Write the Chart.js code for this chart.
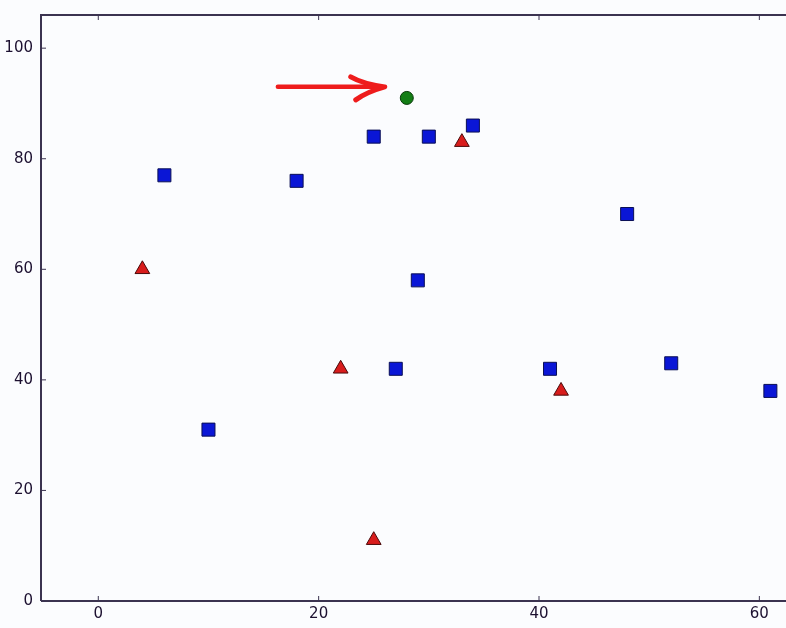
<!DOCTYPE html>
<html>
<head>
<meta charset="utf-8">
<script src="https://cdn.jsdelivr.net/npm/chart.js@4/dist/chart.umd.min.js"></script>
<style>
html,body{margin:0;padding:0;background:#fbfcfe;overflow:hidden;}
#wrap{width:786px;height:628px;overflow:hidden;}
</style>
</head>
<body>
<div id="wrap"><canvas id="c" width="796" height="628"></canvas></div>
<script>
// Data
const squaresX = [6, 10, 18, 25, 27, 29, 30, 34, 41, 48, 52, 61];
const squaresY = [77, 31, 76, 84, 42, 58, 84, 86, 42, 70, 43, 38];
const trianglesX = [4, 22, 25, 33, 42];
const trianglesY = [60, 42, 11, 83, 38];
const circleX = [28];
const circleY = [91];
const arrowFrom = [16.3, 93];
const arrowTo = [26.0, 93];
const xTicks = [0, 20, 40, 60];
const yTicks = [0, 20, 40, 60, 80, 100];

const toPts = (xs, ys) => xs.map((x, i) => ({x: x, y: ys[i]}));

const axisColor = '#3b3350';
const textColor = '#1c1030';

const framePlugin = {
  id: 'frame',
  beforeDraw(chart) {
    const ctx = chart.ctx;
    ctx.save();
    ctx.fillStyle = '#fbfcfe';
    ctx.fillRect(0, 0, chart.width, chart.height);
    ctx.restore();
  },
  afterDraw(chart) {
    const {ctx, chartArea: a, scales} = chart;
    ctx.save();
    ctx.strokeStyle = axisColor;
    ctx.lineWidth = 2;
    ctx.beginPath();
    ctx.moveTo(a.left, a.bottom);
    ctx.lineTo(a.left, a.top);
    ctx.lineTo(a.right + 2, a.top);
    ctx.moveTo(a.left, a.bottom);
    ctx.lineTo(a.right + 2, a.bottom);
    ctx.stroke();
    // inward tick marks
    ctx.lineWidth = 1;
    ctx.beginPath();
    xTicks.forEach(v => {
      const px = scales.x.getPixelForValue(v);
      ctx.moveTo(px, a.bottom);
      ctx.lineTo(px, a.bottom - 5);
      ctx.moveTo(px, a.top);
      ctx.lineTo(px, a.top + 5);
    });
    yTicks.forEach(v => {
      const py = scales.y.getPixelForValue(v);
      ctx.moveTo(a.left, py);
      ctx.lineTo(a.left + 5, py);
    });
    ctx.stroke();
    // red arrow
    const x0 = scales.x.getPixelForValue(arrowFrom[0]);
    const y0 = scales.y.getPixelForValue(arrowFrom[1]);
    const x1 = scales.x.getPixelForValue(arrowTo[0]);
    const y1 = scales.y.getPixelForValue(arrowTo[1]);
    ctx.strokeStyle = '#ee1c1c';
    ctx.lineCap = 'round';
    ctx.lineJoin = 'round';
    ctx.lineWidth = 4.5;
    ctx.beginPath();
    ctx.moveTo(x0, y0);
    ctx.lineTo(x1 - 4, y1);
    ctx.stroke();
    ctx.lineWidth = 5;
    ctx.beginPath();
    ctx.moveTo(x1 - 34, y1 - 10);
    ctx.quadraticCurveTo(x1 - 22, y1 - 3, x1, y1);
    ctx.quadraticCurveTo(x1 - 18, y1 + 5, x1 - 29, y1 + 13);
    ctx.stroke();
    ctx.restore();
  }
};

new Chart(document.getElementById('c'), {
  type: 'scatter',
  data: {
    datasets: [
      {
        data: toPts(squaresX, squaresY),
        pointStyle: 'rect',
        pointRadius: 9.2,
        pointHoverRadius: 9.2,
        backgroundColor: '#0a16d6',
        borderColor: '#0a0f55',
        borderWidth: 1
      },
      {
        data: toPts(trianglesX, trianglesY),
        pointStyle: 'triangle',
        pointRadius: 8.5,
        pointHoverRadius: 8.5,
        backgroundColor: '#d81c1c',
        borderColor: '#4a0a0a',
        borderWidth: 1
      },
      {
        data: toPts(circleX, circleY),
        pointStyle: 'circle',
        pointRadius: 6.5,
        pointHoverRadius: 6.5,
        backgroundColor: '#137d15',
        borderColor: '#083808',
        borderWidth: 1
      }
    ]
  },
  options: {
    responsive: false,
    animation: false,
    events: [],
    layout: {padding: {top: 15, right: 0, left: 0, bottom: 0}},
    plugins: {legend: {display: false}, tooltip: {enabled: false}},
    scales: {
      x: {
        type: 'linear',
        min: -5.2,
        max: 62.4,
        afterBuildTicks(s) { s.ticks = xTicks.map(v => ({value: v})); },
        afterFit(s) { s.height = 27; s.paddingRight = 0; s.paddingLeft = 0; },
        grid: {display: false, drawTicks: false},
        border: {display: false},
        ticks: {
          color: textColor,
          font: {family: 'DejaVu Sans', size: 15},
          padding: 4,
          maxRotation: 0,
          callback: v => String(v)
        }
      },
      y: {
        type: 'linear',
        min: 0,
        max: 106,
        afterBuildTicks(s) { s.ticks = yTicks.map(v => ({value: v})); },
        afterFit(s) { s.width = 41; s.paddingTop = 0; s.paddingBottom = 0; },
        grid: {display: false, drawTicks: false},
        border: {display: false},
        ticks: {
          color: textColor,
          font: {family: 'DejaVu Sans', size: 15},
          padding: 8,
          callback: v => String(v)
        }
      }
    }
  },
  plugins: [framePlugin]
});
</script>
</body>
</html>
